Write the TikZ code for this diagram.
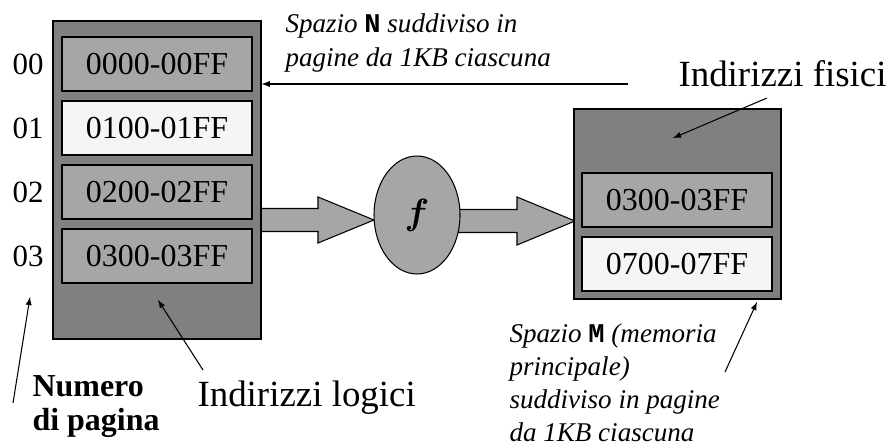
\documentclass[tikz,border=0pt]{standalone}
\usepackage{fontspec}
\setmainfont{Liberation Serif}
\setmonofont{Liberation Mono}
\usepackage{bm}
\usetikzlibrary{shapes.geometric}

\definecolor{memdark}{HTML}{808080}
\definecolor{memgray}{HTML}{A6A6A6}
\definecolor{memwhite}{HTML}{F5F5F5}

\newcommand{\spacename}[1]{\texttt{\upshape\bfseries #1}}

\tikzset{
  mem/.style={draw, fill=memdark, line width=0.8pt},
  page/.style={draw, fill=memgray, line width=0.8pt, minimum width=3.8cm, minimum height=1.08cm, inner sep=0pt, font=\fontsize{18.2}{22}\selectfont},
  num/.style={font=\fontsize{17.6}{22}\selectfont},
  note/.style={font=\fontsize{15.4}{19.4}\selectfont\itshape, align=left, inner sep=0pt},
  title/.style={font=\fontsize{21}{25}\selectfont, inner sep=0pt},
  fat/.style={draw, fill=memgray, line width=0.6pt},
}

\begin{document}
\begin{tikzpicture}[>=latex, x=0.02cm, y=-0.02cm, semithick]
\useasboundingbox (0,0) rectangle (891,446);

% fat arrows through f
\draw[fat] (250,208.5) -- (318,208.5) -- (318,197) -- (374,220) -- (318,243) -- (318,231.5) -- (250,231.5);
\draw[fat] (440,209.5) -- (517,209.5) -- (517,197) -- (575,221) -- (517,245) -- (517,232.5) -- (440,232.5);

% logical space
\node[mem, minimum width=4.16cm, minimum height=6.36cm] (logic) at (157,180) {};
\foreach \y/\txt/\col/\n in {64/0000-00FF/memgray/0, 128/0100-01FF/memwhite/1, 192/0200-02FF/memgray/2, 256/0300-03FF/memgray/3}
{
  \node[page, fill=\col] (p\n) at (157,\y) {\txt};
  \node[num] (n\n) at (28,\y) {0\n};
}

% physical space
\node[mem, minimum width=4.14cm, minimum height=3.8cm] (phys) at (677.5,204) {};
\node[page] (q3) at (677,200) {0300-03FF};
\node[page, fill=memwhite] (q7) at (677,264) {0700-07FF};

\node[ellipse, draw, fill=memgray, line width=0.6pt, minimum width=1.72cm, minimum height=2.36cm, font=\huge] (f) at (417,215) {$\bm{f}$};

% labels (base = last line)
\node[note, anchor=base west] (spazioN) at (285,67) {Spazio \spacename{N} suddiviso in\\pagine da 1KB ciascuna};
\node[title, anchor=base west] (fisici) at (678,87) {Indirizzi fisici};
\node[title, anchor=base west] (logici) at (197,406) {Indirizzi logici};
\node[num, font=\fontsize{18.2}{18.8}\selectfont\bfseries, align=left, inner sep=0pt, anchor=base west] (numero) at (32,430) {Numero\\di pagina};
\node[note, font=\fontsize{15.4}{18.6}\selectfont\itshape, anchor=base west] (spazioM) at (509,441) {Spazio \spacename{M} (memoria\\principale)\\suddiviso in pagine\\da 1KB ciascuna};

% thin arrows
\coordinate (nTail) at (628,84);
\draw[->] (nTail) -- (nTail -| logic.east);
\coordinate (fTail) at (767,98);
\coordinate (fTip) at (673,138);
\draw[->] (fTail) -- (fTip);
\coordinate (numTail) at (13,403);
\coordinate (numTip) at (30,297);
\draw[->] (numTail) -- (numTip);
\coordinate (logTail) at (203,370);
\coordinate (logTip) at (158,300);
\draw[->] (logTail) -- (logTip);
\coordinate (mTail) at (725,372);
\coordinate (mTip) at (757,302);
\draw[->] (mTail) -- (mTip);
\end{tikzpicture}
\end{document}
